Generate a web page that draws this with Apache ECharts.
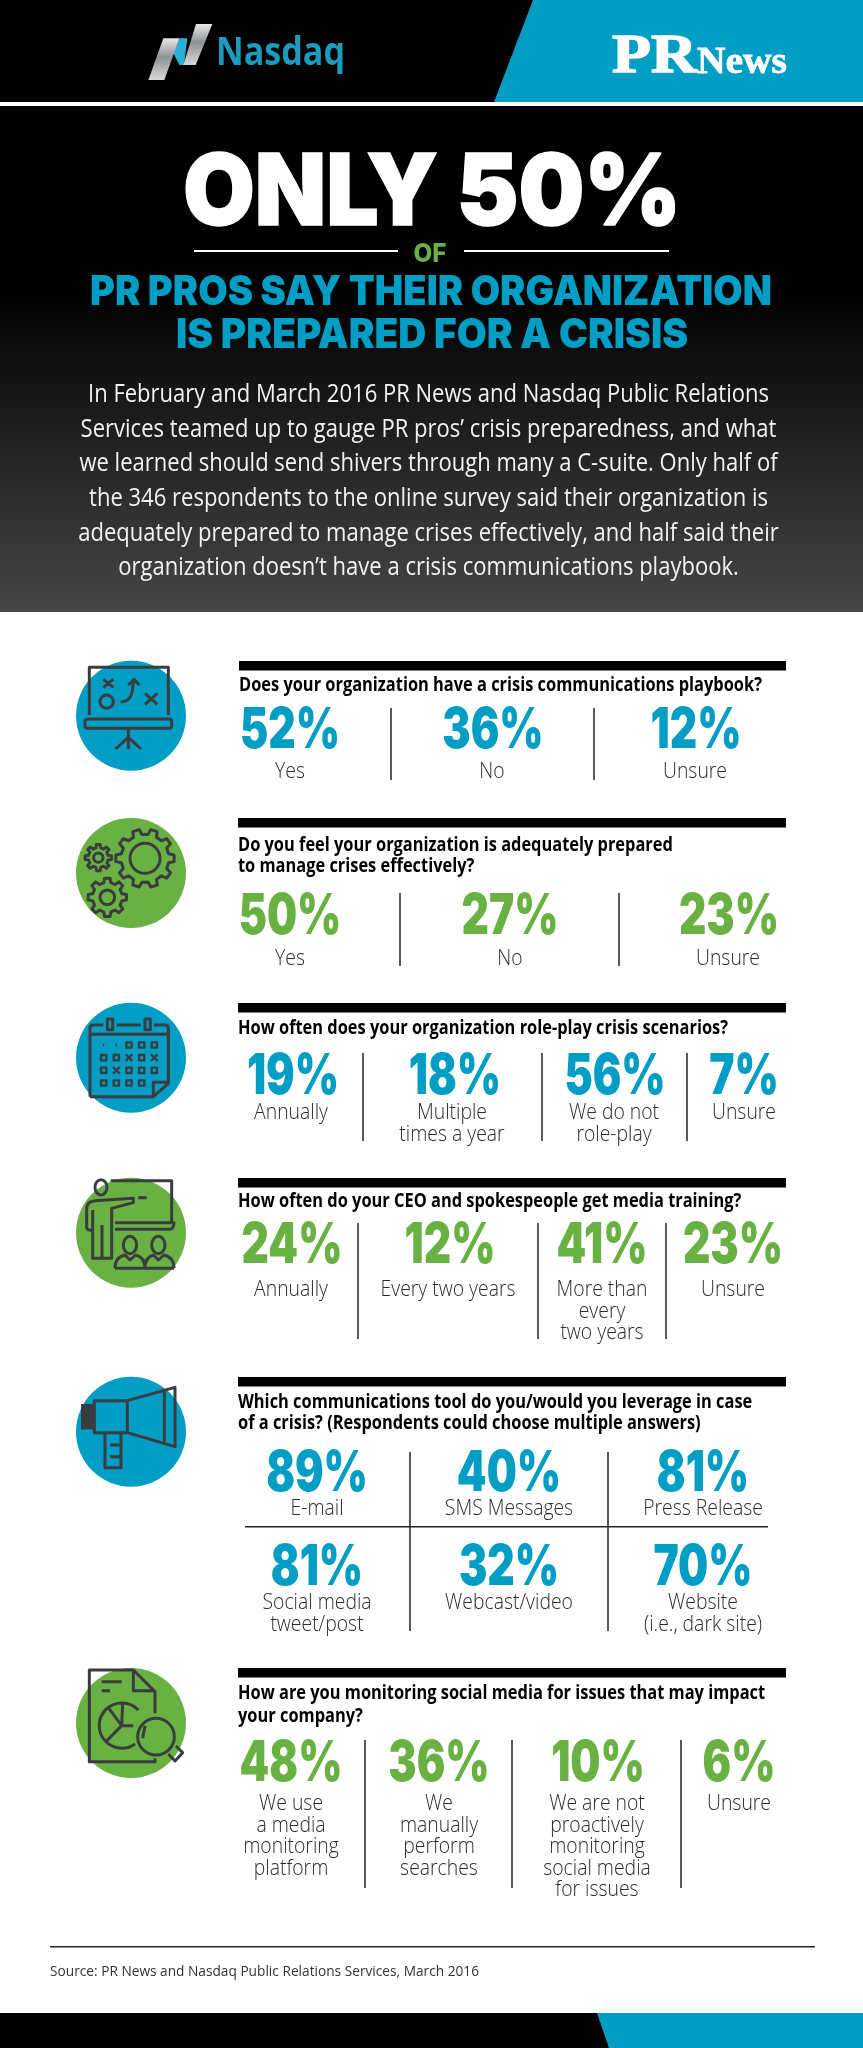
<!DOCTYPE html>
<html>
<head>
<meta charset="utf-8">
<title>Only 50% of PR pros say their organization is prepared for a crisis</title>
<script src="https://cdn.jsdelivr.net/npm/echarts@6/dist/echarts.min.js"></script>
<style>
html, body { margin: 0; padding: 0; background: #fff; }
#chart { width: 863px; height: 2048px; }
</style>
</head>
<body>
<div id="chart"></div>
<script>
// survey answers, one group per question
var q1Question = ['Does your organization have a crisis communications playbook?'];
var q1Values = [52, 36, 12];
var q1Labels = ['Yes', 'No', 'Unsure'];

var q2Question = ['Do you feel your organization is adequately prepared', 'to manage crises effectively?'];
var q2Values = [50, 27, 23];
var q2Labels = ['Yes', 'No', 'Unsure'];

var q3Question = ['How often does your organization role-play crisis scenarios?'];
var q3Values = [19, 18, 56, 7];
var q3Labels = ['Annually', 'Multiple\ntimes a year', 'We do not\nrole-play', 'Unsure'];

var q4Question = ['How often do your CEO and spokespeople get media training?'];
var q4Values = [24, 12, 41, 23];
var q4Labels = ['Annually', 'Every two years', 'More than\nevery\ntwo years', 'Unsure'];

var q5Question = ['Which communications tool do you/would you leverage in case', 'of a crisis? (Respondents could choose multiple answers)'];
var q5Values = [89, 40, 81, 81, 32, 70];
var q5Labels = ['E-mail', 'SMS Messages', 'Press Release', 'Social media\ntweet/post', 'Webcast/video', 'Website\n(i.e., dark site)'];

var q6Question = ['How are you monitoring social media for issues that may impact', 'your company?'];
var q6Values = [48, 36, 10, 6];
var q6Labels = ['We use\na media\nmonitoring\nplatform', 'We\nmanually\nperform\nsearches', 'We are not\nproactively\nmonitoring\nsocial media\nfor issues', 'Unsure'];

var headline = 'ONLY 50%';
var subhead = ['PR PROS SAY THEIR ORGANIZATION', 'IS PREPARED FOR A CRISIS'];
var intro = [
    'In February and March 2016 PR News and Nasdaq Public Relations',
    'Services teamed up to gauge PR pros\u2019 crisis preparedness, and what',
    'we learned should send shivers through many a C-suite. Only half of',
    'the 346 respondents to the online survey said their organization is',
    'adequately prepared to manage crises effectively, and half said their',
    'organization doesn\u2019t have a crisis communications playbook.'
];
var sourceNote = 'Source: PR News and Nasdaq Public Relations Services, March 2016';

var BLUE = '#009dc4', GREEN = '#69b143', INK = '#3a3d40';

// page layout, in pixels of the 863x2048 sheet
var panels = [
    { q: q1Question, v: q1Values, l: q1Labels, color: BLUE, barY: 661, barX: 239, qY: [686], cy: 715.7, iconY: 650,
      pctX: [290, 493, 696], labX: [290, 492, 695], pctY: [729], labY: [771], div: [391, 594], divY: [708, 780] },
    { q: q2Question, v: q2Values, l: q2Labels, color: GREEN, barY: 818, barX: 238, qY: [846, 867], cy: 873, iconY: 810,
      pctX: [290, 510, 729], labX: [290, 510, 728], pctY: [915], labY: [958], div: [400, 619], divY: [893, 966] },
    { q: q3Question, v: q3Values, l: q3Labels, color: BLUE, barY: 1003, barX: 238, qY: [1029], cy: 1057.7, iconY: 995,
      pctX: [293, 455, 615, 744], labX: [291, 452, 614, 744], pctY: [1075], labY: [1112], div: [363, 542, 687], divY: [1053, 1141] },
    { q: q4Question, v: q4Values, l: q4Labels, color: GREEN, barY: 1178, barX: 238, qY: [1202], cy: 1232.7, iconY: 1170,
      pctX: [292, 450, 602, 733], labX: [291, 448, 602, 733], pctY: [1244], labY: [1289], div: [358, 538, 666], divY: [1223, 1339] },
    { q: q5Question, v: q5Values, l: q5Labels, color: BLUE, barY: 1377, barX: 238, qY: [1403, 1424], cy: 1431.7, iconY: 1370,
      pctX: [317, 509, 703, 317, 509, 703], labX: [317, 509, 703, 317, 509, 703], pctY: [1472, 1566], labY: [1508, 1602], perRow: 3, div: [410, 608], divY: [1452, 1631] },
    { q: q6Question, v: q6Values, l: q6Labels, color: GREEN, barY: 1668, barX: 238, qY: [1694, 1717], cy: 1723, iconY: 1660,
      pctX: [291, 439, 598, 739], labX: [291, 439, 597, 739], pctY: [1762], labY: [1803], div: [365, 512, 681], divY: [1740, 1888] }
];

var fontPct = '900 56px Inter';
var fontLab = '300 22px "Open Sans"';
var fontQ = '700 19px "Open Sans"';
var fontBody = '400 25px "Open Sans"';

var measure = document.createElement('canvas').getContext('2d');
function fit(str, font, width) {
    measure.font = font;
    return width / measure.measureText(str).width;
}
var scalePct = fit('52%', fontPct, 100);
var scaleLab = fit('Unsure', fontLab, 64);
var scaleQ = fit(q1Question[0], fontQ, 523);
var scaleBody = fit(intro[0], fontBody, 681);

function text(str, x, y, font, fill, scaleX, align, bold) {
    var style = { text: str, x: 0, y: 0, font: font, fill: fill, textAlign: align || 'left', textVerticalAlign: 'middle' };
    if (bold) {
        style.stroke = fill;
        style.lineWidth = bold;
    }
    return { type: 'text', x: x, y: y, scaleX: scaleX || 1, silent: true, style: style };
}
function rect(x, y, w, h, fill) {
    return { type: 'rect', silent: true, shape: { x: x, y: y, width: w, height: h }, style: { fill: fill } };
}
function poly(points, fill) {
    return { type: 'polygon', silent: true, shape: { points: points }, style: { fill: fill } };
}

// icons are traced at 3x in a 125px box around each circle
function line(d, width) {
    return { type: 'path', silent: true, shape: { pathData: d }, style: { fill: 'none', stroke: INK, lineWidth: width || 9, lineJoin: 'round' } };
}
function oval(cx, cy, rx, ry) {
    return { type: 'ellipse', silent: true, shape: { cx: cx, cy: cy, rx: rx, ry: ry }, style: { fill: 'none', stroke: INK, lineWidth: 9 } };
}
function gear(cx, cy, ro, ri, n) {
    var d = '', step = Math.PI * 2 / n;
    for (var i = 0; i < n; i++) {
        var a = i * step;
        var pts = [[ri, a - step * 0.3], [ro, a - step * 0.18], [ro, a + step * 0.18], [ri, a + step * 0.3]];
        pts.forEach(function (p, k) {
            d += ((i === 0 && k === 0) ? 'M' : 'L') + (cx + p[0] * Math.cos(p[1])).toFixed(1) + ' ' + (cy + p[0] * Math.sin(p[1])).toFixed(1) + ' ';
        });
    }
    return d + 'Z';
}
function ring(cx, cy, r) {
    return 'M' + (cx - r) + ' ' + cy + ' A' + r + ' ' + r + ' 0 1 1 ' + (cx + r) + ' ' + cy + ' A' + r + ' ' + r + ' 0 1 1 ' + (cx - r) + ' ' + cy + ' Z';
}
function calendarCells() {
    var rows = ['..ooo', 'ooxox', 'oxooo', 'oooo '], xs = [101, 139, 177, 215, 253], ys = [150, 188, 226, 264], d = '';
    rows.forEach(function (row, r) {
        row.split('').forEach(function (c, k) {
            var x = xs[k], y = ys[r];
            if (c === 'o') d += 'M' + (x - 8) + ' ' + (y - 8) + ' h16 v16 h-16 Z ';
            if (c === 'x') d += 'M' + (x - 10) + ' ' + (y - 10) + ' l20 20 M' + (x + 10) + ' ' + (y - 10) + ' l-20 20 ';
            if (c === '.') d += 'M' + (x - 2) + ' ' + y + ' h4 ';
        });
    });
    return d;
}

var icons = [
    [line('M58 195 V52 H295 V195 M52 207 H298 Q305 207 305 214 V228 Q305 235 298 235 H52 Q45 235 45 228 V214 Q45 207 52 207 Z M175 235 V297 M137 297 L175 262 L213 297'),
        line('M100 88 L130 112 M130 88 L100 112 M225 130 L262 163 M262 130 L225 163 M152 155 C185 155 188 130 190 90 M175 105 L192 88 L208 105 ' + ring(110, 155, 20))],
    [line(gear(225, 145, 88, 72, 10) + ' ' + ring(225, 145, 45) + ' ' + gear(85, 143, 40, 30, 8) + ' ' + ring(85, 143, 14) + ' ' + gear(112, 262, 58, 45, 8) + ' ' + ring(112, 262, 22))],
    [line('M60 305 V100 Q60 90 70 90 H100 M140 90 H212 M252 90 H285 Q295 90 295 100 V265 L250 305 H60 M60 118 H295 M250 305 V262 H295 M112 72 H128 V104 H112 Z M225 72 H241 V104 H225 Z'),
        line(calendarCells(), 7)],
    [line('M122 32 H305 V155 M135 158 H312 Q312 175 300 178 H135 M205 83 H230 M50 178 V115 Q50 95 75 92 L190 85 V98 L125 115 V265 H68 V120 M96 265 V165 M50 178 L68 182 M135 295 Q135 262 165 255 L180 270 L197 255 Q225 262 225 295 M225 295 Q225 262 250 255 L265 270 L282 255 Q312 262 312 295 M135 295 H312'),
        oval(93, 52, 18, 23), oval(180, 225, 20, 26), oval(265, 225, 20, 26)],
    [rect(33, 102, 37, 76, INK),
        line('M73 92 H172 V188 H73 Z M172 92 L315 52 V230 L172 188 M283 65 V215 M105 190 V293 H153 V190 M120 225 H153 M120 260 H153')],
    [line('M255 160 V95 L190 30 H58 V305 H255 V295 M190 30 V92 H255 M95 65 H155 M95 92 H120'),
        line('M205 150 A68 68 0 1 0 195 252 M115 143 L155 197 L108 245 M158 130 L155 197 L190 197 M225 197 L218 235 M295 282 L315 303 L338 278 L318 258 ' + ring(258, 230, 55))]
];

// everything that is not a survey answer: header, rules, question text
var decor = [];
decor.push(rect(0, 0, 863, 102, '#000'));
decor.push(poly([[533, 0], [863, 0], [863, 102], [494, 102]], BLUE));
decor.push({
    type: 'rect', silent: true, shape: { x: 0, y: 106, width: 863, height: 506 },
    style: { fill: { type: 'linear', x: 0, y: 0, x2: 0, y2: 1, colorStops: [
        { offset: 0, color: '#000' }, { offset: 0.36, color: '#000' }, { offset: 1, color: '#464646' }] } }
});
// Nasdaq mark
var silver = { type: 'linear', x: 0, y: 0, x2: 0, y2: 1, colorStops: [
    { offset: 0, color: '#e8e8e8' }, { offset: 0.45, color: '#8f9295' }, { offset: 1, color: '#d8d8d8' }] };
decor.push({ type: 'group', x: 130, y: 10, scaleX: 1 / 3, scaleY: 1 / 3, children: [
    poly([[130, 130], [148, 85], [172, 85], [162, 165], [148, 165]], '#2ab0d6'),
    poly([[55, 210], [103, 210], [148, 85], [100, 85]], silver),
    poly([[160, 165], [197, 165], [247, 42], [198, 42]], silver)
] });
var nasdaqFont = '700 40px "Open Sans"';
decor.push(text('Nasdaq', 216, 54, nasdaqFont, '#1c9bbd', fit('Nasdaq', nasdaqFont, 129)));
// PR News wordmark
var prFont = '700 55px "Liberation Serif"', newsFont = '700 38px "Liberation Serif"';
decor.push(text('PR', 612, 58, prFont, '#fff', fit('PR', prFont, 85), 'left', 1.5));
decor.push(text('News', 697, 63, newsFont, '#fff', fit('News', newsFont, 90), 'left', 0.8));
// headline block
var headFont = '900 99px Inter', subFont = '900 41px Inter';
decor.push(text(headline, 432, 195, headFont, '#fff', fit(headline, headFont, 498), 'center', 1.5));
decor.push(rect(194, 250, 204, 2, '#fff'));
decor.push(rect(464, 250, 205, 2, '#fff'));
decor.push(text('OF', 430, 254, '800 26px Inter', GREEN, fit('OF', '800 26px Inter', 33), 'center'));
decor.push(text(subhead[0], 431, 293, subFont, BLUE, fit(subhead[0], subFont, 682), 'center'));
decor.push(text(subhead[1], 432, 336, subFont, BLUE, fit(subhead[1], subFont, 512), 'center'));
intro.forEach(function (s, i) {
    decor.push(text(s, 428.5, 395 + i * 34.6, fontBody, '#f2f2f2', scaleBody, 'center'));
});
// question panels
panels.forEach(function (p) {
    decor.push(rect(p.barX, p.barY, 786 - p.barX, 9.5, '#000'));
    p.q.forEach(function (s, i) {
        decor.push(text(s, p.barX, p.qY[i], fontQ, '#000', scaleQ));
    });
    p.div.forEach(function (x) {
        decor.push(rect(x - 0.75, p.divY[0], 1.5, p.divY[1] - p.divY[0], '#222'));
    });
});
decor.push(rect(245, 1526, 523, 1.5, '#222'));
// footer
decor.push(rect(50, 1946, 765, 1.5, '#222'));
decor.push(text(sourceNote, 50, 1972, '400 14.5px "Open Sans"', '#333', fit(sourceNote, '400 14.5px "Open Sans"', 429)));
decor.push(rect(0, 2013, 863, 35, '#000'));
decor.push(poly([[597, 2013], [863, 2013], [863, 2048], [609, 2048]], BLUE));

// one custom series per question; percent and caption go through the axes
function answerSeries(p) {
    var cols = p.perRow || p.v.length;
    var data = p.v.map(function (val, i) {
        var row = Math.floor(i / cols);
        return [p.pctX[i], p.pctY[row], val, p.labX[i], p.labY[row]];
    });
    return {
        type: 'custom',
        name: p.q.join(' '),
        coordinateSystem: 'cartesian2d',
        silent: true,
        data: data,
        encode: { x: 0, y: 1 },
        renderItem: function (params, api) {
            var at = api.coord([api.value(0), api.value(1)]);
            var atLab = api.coord([api.value(3), api.value(4)]);
            var kids = [text(api.value(2) + '%', at[0], at[1] + 2, fontPct, p.color, scalePct, 'center')];
            p.l[params.dataIndex].split('\n').forEach(function (s, k) {
                kids.push(text(s, atLab[0], atLab[1] + 1 + k * 21.5, fontLab, '#2b2b2b', scaleLab, 'center'));
            });
            return { type: 'group', children: kids };
        }
    };
}

// the round icon badges next to each question
var iconSeries = {
    type: 'custom',
    name: 'icons',
    coordinateSystem: 'cartesian2d',
    silent: true,
    data: panels.map(function (p) { return [131, p.cy]; }),
    encode: { x: 0, y: 1 },
    renderItem: function (params, api) {
        var p = panels[params.dataIndex];
        var c = api.coord([api.value(0), api.value(1)]);
        return { type: 'group', children: [
            { type: 'circle', silent: true, shape: { cx: c[0], cy: c[1], r: 55 }, style: { fill: p.color } },
            { type: 'group', x: 70, y: p.iconY, scaleX: 1 / 3, scaleY: 1 / 3, children: icons[params.dataIndex] }
        ] };
    }
};

var chart = echarts.init(document.getElementById('chart'));
chart.setOption({
    animation: false,
    backgroundColor: '#fff',
    grid: { left: 0, top: 0, width: 863, height: 2048 },
    xAxis: { type: 'value', min: 0, max: 863, show: false },
    yAxis: { type: 'value', min: 0, max: 2048, inverse: true, show: false },
    graphic: { elements: decor },
    series: [iconSeries].concat(panels.map(answerSeries))
});
</script>
</body>
</html>
